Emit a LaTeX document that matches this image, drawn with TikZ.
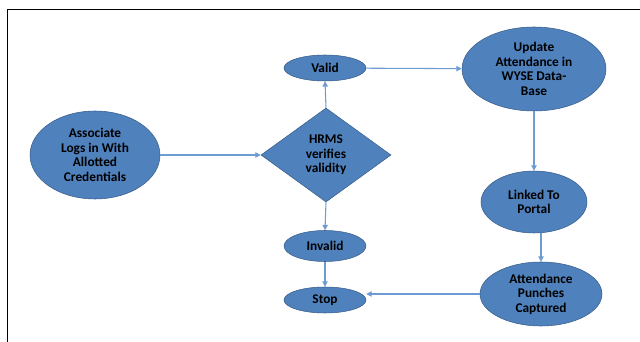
\documentclass[tikz,border=0pt]{standalone}
\usepackage{fontspec}
\setmainfont{Carlito}
\usetikzlibrary{shapes.geometric,arrows.meta}

\definecolor{boxblue}{RGB}{79,129,189}
\definecolor{edgeblue}{RGB}{56,93,138}
\definecolor{flowblue}{RGB}{110,155,210}

\tikzset{
	oval/.style = {ellipse, draw=edgeblue, fill=boxblue, inner sep=0pt,
		align=center, font=\bfseries\fontsize{10}{10.9}\selectfont},
	decision/.style = {diamond, draw=edgeblue, fill=boxblue, inner sep=0pt,
		align=center, font=\bfseries\fontsize{10}{10.9}\selectfont},
	flow/.style = {draw=flowblue, line width=0.8pt, -{Triangle[length=4pt,width=4pt]}}
}

\begin{document}
\begin{tikzpicture}[x=0.75pt, y=-0.75pt]
	\useasboundingbox (0,0) rectangle (640,342);
	% frame
	\draw[line width=1pt] (7.5,342) -- (7.5,9.5) -- (640,9.5);
	% nodes
	\node[oval, minimum width=97.5pt, minimum height=66pt] (login) at (95,155) {Associate\\Logs in With\\Allotted\\Credentials};
	\node[decision, minimum width=97.5pt, minimum height=70.5pt] (hrms) at (326,155) {HRMS\\verifies\\validity};
	\node[oval, minimum width=61.5pt, minimum height=19.5pt] (valid) at (325,68) {Valid};
	\node[oval, minimum width=61.5pt, minimum height=23.25pt] (invalid) at (325,246) {Invalid};
	\node[oval, minimum width=61.5pt, minimum height=19.5pt] (stop) at (325,300) {Stop};
	\node[oval, minimum width=108pt, minimum height=63pt] (update) at (534,69) {Update\\Attendance in\\WYSE Data-\\Base};
	\node[oval, minimum width=79.5pt, minimum height=46.5pt] (portal) at (534,202) {Linked To\\Portal};
	\node[oval, minimum width=91.5pt, minimum height=48pt] (punch) at (541,294) {Attendance\\Punches\\Captured};
	% connectors
	\draw[flow] (login) -- (hrms);
	\draw[flow] (hrms.north) -- (valid.south);
	\draw[flow] (valid) -- (update);
	\draw[flow] (update.south) -- (portal.north);
	\draw[flow] (portal.south -| punch.north) -- (punch.north);
	\draw[flow] (hrms.south) -- (invalid.north);
	\draw[flow] (invalid) -- (stop);
	\draw[flow] (punch.west) -- (punch.west -| stop.east);
\end{tikzpicture}
\end{document}
